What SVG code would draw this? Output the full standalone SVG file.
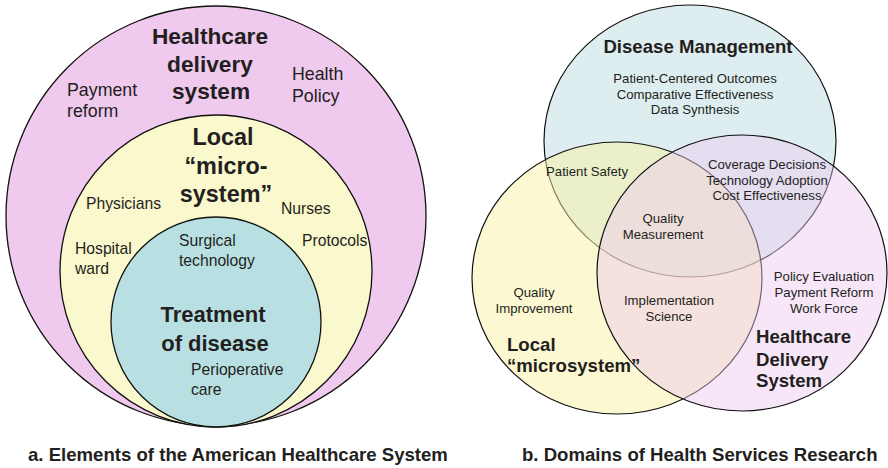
<svg xmlns="http://www.w3.org/2000/svg" width="888" height="468" viewBox="0 0 888 468">
<style>
text{font-family:"Liberation Sans",Arial,Helvetica,sans-serif;fill:#231f20}
.b{font-weight:bold}
.c{text-anchor:middle}
.ring{stroke:#111;stroke-width:1.3}
.ven{stroke:#111;stroke-width:1.2}
.l1{font-size:22.7px}
.l2{font-size:23.4px}
.l3{font-size:22px}
.m{font-size:17.8px}
.s{font-size:15.7px}
.r{font-size:13.2px}
.h{font-size:18.6px}
</style>
<rect width="888" height="468" fill="#ffffff"/>
<g id="healthcare-delivery-system">
<circle class="ring" cx="216" cy="216" r="210" fill="#efc9ee"/>
<text class="b l1 c" x="210" y="44">Healthcare</text>
<text class="b l1 c" x="210" y="72">delivery</text>
<text class="b l1 c" x="211" y="99">system</text>
<text class="m" x="67" y="96">Payment</text>
<text class="m" x="67" y="117">reform</text>
<text class="m" x="292" y="80">Health</text>
<text class="m" x="292" y="102">Policy</text>
</g>
<g id="local-microsystem">
<circle class="ring" cx="216" cy="271" r="156" fill="#faf8cd"/>
<text class="b l2 c" x="223" y="145">Local</text>
<text class="b l2 c" x="226" y="174">“micro-</text>
<text class="b l2 c" x="226" y="202">system”</text>
<text class="s" x="86" y="209">Physicians</text>
<text class="s" x="281" y="214">Nurses</text>
<text class="s" x="75" y="254">Hospital</text>
<text class="s" x="75" y="274">ward</text>
<text class="s" x="302" y="246">Protocols</text>
</g>
<g id="treatment-of-disease">
<circle class="ring" cx="216" cy="322" r="105" fill="#b8dfe2"/>
<text class="s" x="179" y="246">Surgical</text>
<text class="s" x="179" y="266">technology</text>
<text class="b l3 c" x="213" y="322">Treatment</text>
<text class="b l3 c" x="215" y="351">of disease</text>
<text class="s" x="191" y="375">Perioperative</text>
<text class="s" x="191" y="395">care</text>
</g>
<g id="caption-a">
<text class="b h" x="28" y="461">a. Elements of the American Healthcare System</text>
</g>
<g id="disease-management">
<ellipse class="ven" cx="690" cy="141" rx="146" ry="136" fill="#deeef0"/>
</g>
<g id="local-microsystem-b">
<ellipse class="ven" cx="617" cy="278" rx="145" ry="136" fill="#f7f1a5" fill-opacity="0.5"/>
</g>
<g id="healthcare-delivery-system-b">
<ellipse class="ven" cx="742" cy="273" rx="145" ry="138" fill="#edc7ef" fill-opacity="0.45"/>
</g>
<g id="labels-disease-management">
<text class="b h c" x="698" y="53">Disease Management</text>
<text class="r c" x="695" y="83">Patient-Centered Outcomes</text>
<text class="r c" x="695" y="99">Comparative Effectiveness</text>
<text class="r c" x="695" y="114">Data Synthesis</text>
</g>
<g id="labels-overlaps">
<text class="r" x="546" y="176">Patient Safety</text>
<text class="r c" x="767" y="169">Coverage Decisions</text>
<text class="r c" x="767" y="185">Technology Adoption</text>
<text class="r c" x="767" y="200">Cost Effectiveness</text>
<text class="r c" x="663" y="223">Quality</text>
<text class="r c" x="663" y="239">Measurement</text>
<text class="r c" x="669" y="305">Implementation</text>
<text class="r c" x="669" y="321">Science</text>
</g>
<g id="labels-local-microsystem">
<text class="r c" x="534" y="297">Quality</text>
<text class="r c" x="534" y="313">Improvement</text>
<text class="b h" x="507" y="351">Local</text>
<text class="b h" x="507" y="372">“microsystem”</text>
</g>
<g id="labels-healthcare-delivery">
<text class="r c" x="824" y="281">Policy Evaluation</text>
<text class="r c" x="824" y="297">Payment Reform</text>
<text class="r c" x="824" y="313">Work Force</text>
<text class="b h" x="756" y="343">Healthcare</text>
<text class="b h" x="756" y="366">Delivery</text>
<text class="b h" x="756" y="387">System</text>
</g>
<g id="caption-b">
<text class="b h" x="522" y="461">b. Domains of Health Services Research</text>
</g>
</svg>
